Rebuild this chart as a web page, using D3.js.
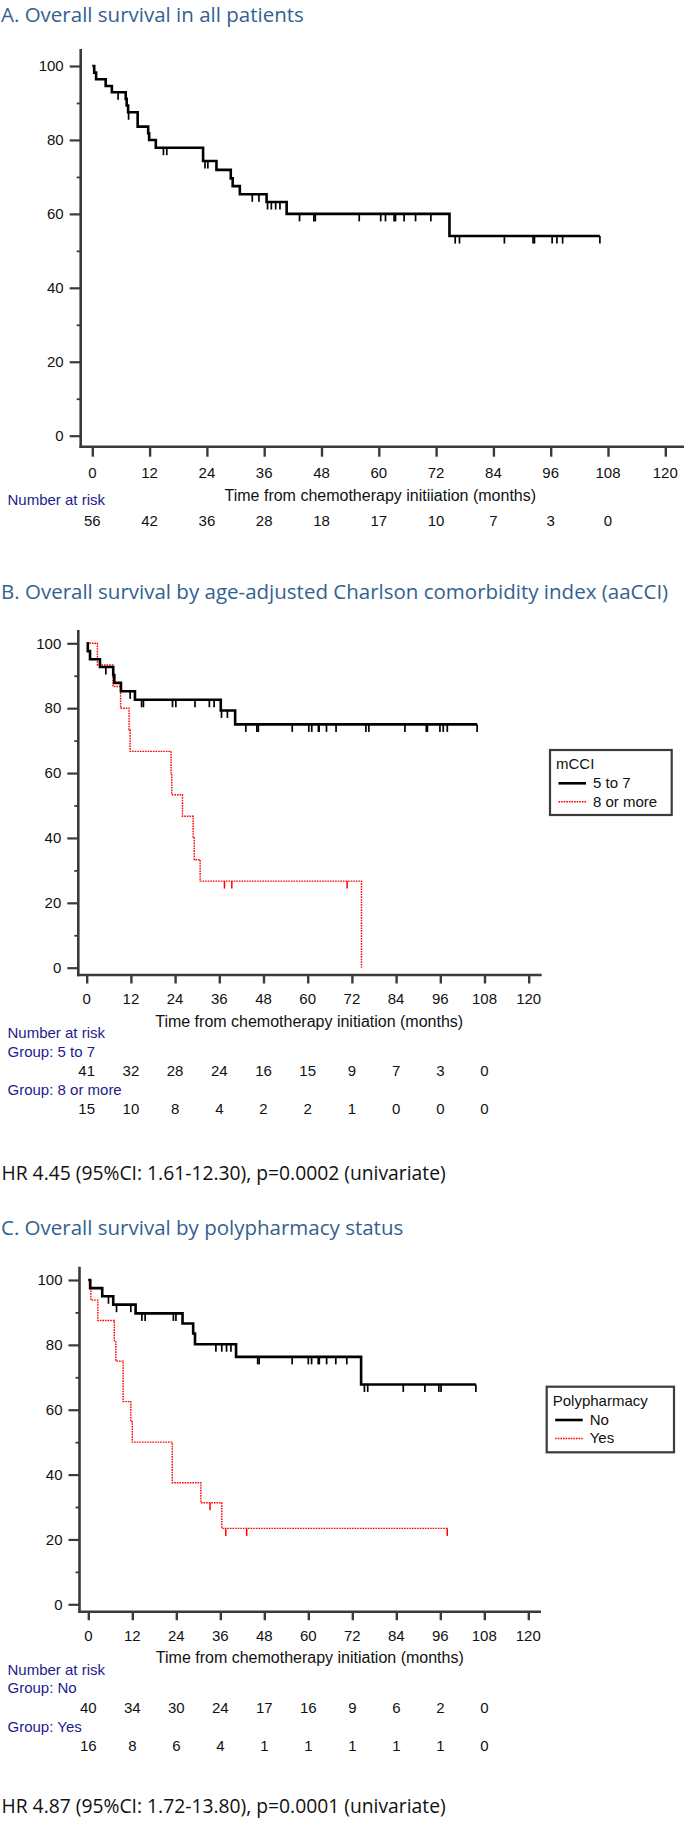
<!DOCTYPE html>
<html><head><meta charset="utf-8">
<script src="https://cdn.jsdelivr.net/npm/d3@7"></script>
<style>
html,body{margin:0;padding:0;background:#fff;}
svg{display:block;}
</style></head>
<body>
<svg id="chart" width="685" height="1821"></svg>
<script>
// ---------------- DATA ----------------
const xTickValues = [0,12,24,36,48,60,72,84,96,108,120];
const riskTimes = [0,12,24,36,48,60,72,84,96,108];

// Panel A: all patients
const aTime = [0,0.4,0.8,2.8,4.1,7.0,7.2,7.5,9.5,11.7,11.9,13.3,23.2,26.0,29.0,29.4,30.9,36.5,40.7,74.8];
const aSurv = [100,98.2,96.4,94.6,92.9,91.1,89.3,87.5,83.6,81.8,80.0,77.9,74.3,71.9,69.6,67.5,65.3,63.2,60.0,54.0];
const aEnd = 106.3;
const aCens = [5.4,7.6,14.9,15.6,23.6,24.2,33.5,34.9,36.7,37.5,38.4,39.3,43.4,46.4,46.7,55.9,60.4,61.4,63.2,63.5,65.3,67.7,70.9,76.0,76.9,86.3,92.3,92.6,96.3,97.3,98.5,106.3];
const aRisk = [56,42,36,28,18,17,10,7,3,0];

// Panel B: aaCCI 5 to 7 / 8 or more
const b1Time = [0,0.3,0.9,3.6,7.2,7.5,9.3,13.1,36.4,40.3];
const b1Surv = [100,97.6,95.1,92.7,90.2,87.8,85.2,82.6,79.3,75.0];
const b1End = 106.0;
const b1Cens = [5.2,11.8,14.9,15.4,23.3,24.2,29.4,33.3,34.6,36.6,38.2,43.2,46.2,46.6,55.8,60.3,61.1,62.9,63.1,65.1,67.7,75.8,76.6,86.4,92.2,92.5,95.9,96.8,97.9,106.0];
const b2Time = [0,2.9,7.1,9.2,11.5,11.8,22.9,23.1,26.0,28.9,29.2,30.8,74.6];
const b2Surv = [100,93.3,86.7,80.0,73.3,66.7,60.0,53.3,46.7,40.0,33.3,26.7,0];
const b2End = 74.6;
const b2Cens = [37.4,39.4,70.7];
const b1Risk = [41,32,28,24,16,15,9,7,3,0];
const b2Risk = [15,10,8,4,2,2,1,0,0,0];

// Panel C: polypharmacy No / Yes
const c1Time = [0,0.5,3.8,6.8,12.9,25.7,28.6,29.1,40.3,74.4];
const c1Surv = [100,97.5,95.0,92.4,89.7,86.6,83.5,80.2,76.3,67.8];
const c1End = 105.7;
const c1Cens = [5.5,7.7,11.6,14.6,15.5,23.2,23.9,34.8,36.4,37.7,38.9,46.2,46.6,55.6,60.0,60.9,62.7,63.0,65.0,67.5,70.5,75.3,76.2,85.9,91.8,95.6,96.2,105.7];
const c2Time = [0,0.7,2.6,7.1,7.5,9.5,11.6,12.0,22.9,30.7,36.4];
const c2Surv = [100,93.8,87.5,81.3,75.0,62.5,56.3,50.0,37.5,31.3,23.4];
const c2End = 97.9;
const c2Cens = [33.2,37.5,43.2,97.9];
const c1Risk = [40,34,30,24,17,16,9,6,2,0];
const c2Risk = [16,8,6,4,1,1,1,1,1,0];

// ---------------- DRAW ----------------
const svg = d3.select("#chart");
const ARIAL = "'Liberation Sans', Arial, Helvetica, sans-serif";
const TITLEF = "'Open Sans', 'Noto Sans', sans-serif";
const AXC = "#3a3a3a";
const NAVY = "#1c1c8e";
const TITLEC = "#33618f";

function stepAt(times, surv, t){
  let s = surv[0];
  for (let i=0;i<times.length;i++){ if (times[i] <= t) s = surv[i]; }
  return s;
}

function drawPanel(p){
  const g = svg.append("g");
  const x = d3.scaleLinear().domain([0,120]).range(p.xr);
  const y = d3.scaleLinear().domain([0,100]).range(p.yr);

  // title
  g.append("text").attr("x",1).attr("y",p.titleY).text(p.title)
    .attr("font-family",TITLEF).attr("font-size",20.5).attr("fill",TITLEC);

  // axes lines
  g.append("line").attr("x1",p.axisX).attr("x2",p.axisX).attr("y1",p.yTop).attr("y2",p.xAxisY+1.2)
    .attr("stroke",AXC).attr("stroke-width",2.6);
  g.append("line").attr("x1",p.axisX-1.2).attr("x2",p.xEnd).attr("y1",p.xAxisY).attr("y2",p.xAxisY)
    .attr("stroke",AXC).attr("stroke-width",2.6);

  // y axis ticks (major with labels, minor without)
  const yAx = g.append("g").attr("transform",`translate(${p.axisX},0)`)
    .call(d3.axisLeft(y).tickValues([0,20,40,60,80,100]).tickSize(11).tickPadding(6));
  yAx.select(".domain").remove();
  yAx.selectAll("line").attr("stroke",AXC).attr("stroke-width",2.2);
  yAx.selectAll("text").attr("font-family",ARIAL).attr("font-size",15).attr("fill","#111");
  const yMin = g.append("g").attr("transform",`translate(${p.axisX},0)`)
    .call(d3.axisLeft(y).tickValues([10,30,50,70,90]).tickSize(4).tickFormat(""));
  yMin.select(".domain").remove();
  yMin.selectAll("line").attr("stroke",AXC).attr("stroke-width",1.8);

  // x axis ticks
  const xAx = g.append("g").attr("transform",`translate(0,${p.xAxisY})`)
    .call(d3.axisBottom(x).tickValues(xTickValues).tickSize(p.xTickLen).tickFormat(""));
  xAx.select(".domain").remove();
  xAx.selectAll("line").attr("stroke",AXC).attr("stroke-width",2.4);
  g.selectAll(".xlab").data(xTickValues).enter().append("text")
    .attr("x",d=>x(d)).attr("y",p.labelY).attr("text-anchor","middle")
    .attr("font-family",ARIAL).attr("font-size",15).attr("fill","#111").text(d=>d);

  // axis title
  g.append("text").attr("x",x(60)+1.5).attr("y",p.axisTitleY).attr("text-anchor","middle")
    .attr("font-family",ARIAL).attr("font-size",16).attr("fill","#111").text(p.axisTitle);

  // number at risk
  g.append("text").attr("x",7.5).attr("y",p.narY).text("Number at risk")
    .attr("font-family",ARIAL).attr("font-size",15).attr("fill",NAVY);
  p.groups.forEach(gr=>{
    if (gr.label){
      g.append("text").attr("x",7.5).attr("y",gr.labelY).text(gr.label)
        .attr("font-family",ARIAL).attr("font-size",15).attr("fill",NAVY);
    }
    g.selectAll(null).data(gr.risk).enter().append("text")
      .attr("x",(d,i)=>x(riskTimes[i])).attr("y",gr.rowY).attr("text-anchor","middle")
      .attr("font-family",ARIAL).attr("font-size",15).attr("fill","#111").text(d=>d);
  });

  // curves
  const line = d3.line().x(d=>x(d[0])).y(d=>y(d[1])).curve(d3.curveStepAfter);
  p.series.forEach(s=>{
    const pts = s.time.map((t,i)=>[t,s.surv[i]]);
    pts.push([s.end, s.surv[s.surv.length-1]]);
    const path = g.append("path").attr("d",line(pts)).attr("fill","none")
      .attr("stroke",s.color).attr("stroke-width",s.width).attr("stroke-linejoin","miter");
    if (s.dash) path.attr("stroke-dasharray",s.dash);
    g.selectAll(null).data(s.cens).enter().append("line")
      .attr("x1",d=>x(d)).attr("x2",d=>x(d))
      .attr("y1",d=>y(stepAt(s.time,s.surv,d)))
      .attr("y2",d=>y(stepAt(s.time,s.surv,d))+7.5)
      .attr("stroke",s.color).attr("stroke-width",s.censW);
  });

  // legend
  if (p.legend){
    const L = p.legend;
    const lg = g.append("g").attr("transform",`translate(${L.x},${L.y})`);
    lg.append("rect").attr("width",L.w).attr("height",L.h).attr("fill","#fff")
      .attr("stroke","#3c3c3c").attr("stroke-width",2.2);
    lg.append("text").attr("x",6).attr("y",19).text(L.title)
      .attr("font-family",ARIAL).attr("font-size",15).attr("fill","#111");
    L.items.forEach((it,i)=>{
      const ly = 33.3 + i*18.5;
      const ln = lg.append("line").attr("x1",8.5).attr("x2",36).attr("y1",ly).attr("y2",ly)
        .attr("stroke",it.color).attr("stroke-width",it.width);
      if (it.dash) ln.attr("stroke-dasharray",it.dash);
      lg.append("text").attr("x",43).attr("y",ly+4.8).text(it.label)
        .attr("font-family",ARIAL).attr("font-size",15).attr("fill","#111");
    });
  }

  if (p.hr){
    g.append("text").attr("x",1.5).attr("y",p.hrY).text(p.hr)
      .attr("font-family",TITLEF).attr("font-size",19.3).attr("fill","#111");
  }
}

const BLACK = {color:"#000", width:2.6, censW:1.7, dash:null};
const RED = {color:"#ff0000", width:1.4, censW:1.5, dash:"1.6,1"};

drawPanel({
  title:"A. Overall survival in all patients", titleY:22,
  axisX:80.7, xr:[92.3,665.3], xEnd:684, yr:[435.7,66], yTop:49, xAxisY:446.7, xTickLen:10,
  labelY:478.3, axisTitle:"Time from chemotherapy initiiation (months)", axisTitleY:501,
  narY:505, groups:[{label:null, rowY:525.5, risk:aRisk}],
  series:[Object.assign({time:aTime, surv:aSurv, end:aEnd, cens:aCens}, BLACK)],
  legend:null, hr:null
});

drawPanel({
  title:"B. Overall survival by age-adjusted Charlson comorbidity index (aaCCI)", titleY:599,
  axisX:78.3, xr:[86.7,528.7], xEnd:541.7, yr:[967.7,643.3], yTop:630, xAxisY:975, xTickLen:8.5,
  labelY:1004, axisTitle:"Time from chemotherapy initiation (months)", axisTitleY:1026.7,
  narY:1037.7,
  groups:[{label:"Group: 5 to 7", labelY:1056.7, rowY:1075.7, risk:b1Risk},
          {label:"Group: 8 or more", labelY:1095, rowY:1114, risk:b2Risk}],
  series:[Object.assign({time:b2Time, surv:b2Surv, end:b2End, cens:b2Cens}, RED),
          Object.assign({time:b1Time, surv:b1Surv, end:b1End, cens:b1Cens}, BLACK)],
  legend:{x:550, y:750, w:121.7, h:65, title:"mCCI",
    items:[{label:"5 to 7", color:"#000", width:2.6},{label:"8 or more", color:"#ff0000", width:1.4, dash:"1.6,1"}]},
  hr:"HR 4.45 (95%CI: 1.61-12.30), p=0.0002 (univariate)", hrY:1180
});

drawPanel({
  title:"C. Overall survival by polypharmacy status", titleY:1235,
  axisX:79.5, xr:[88.3,528.3], xEnd:541, yr:[1604.3,1280], yTop:1266.7, xAxisY:1611.7, xTickLen:8.5,
  labelY:1641, axisTitle:"Time from chemotherapy initiation (months)", axisTitleY:1663.3,
  narY:1675,
  groups:[{label:"Group: No", labelY:1693.3, rowY:1712.7, risk:c1Risk},
          {label:"Group: Yes", labelY:1731.7, rowY:1750.7, risk:c2Risk}],
  series:[Object.assign({time:c2Time, surv:c2Surv, end:c2End, cens:c2Cens}, RED),
          Object.assign({time:c1Time, surv:c1Surv, end:c1End, cens:c1Cens}, BLACK)],
  legend:{x:546.7, y:1386.7, w:127.3, h:65.6, title:"Polypharmacy",
    items:[{label:"No", color:"#000", width:2.6},{label:"Yes", color:"#ff0000", width:1.4, dash:"1.6,1"}]},
  hr:"HR 4.87 (95%CI: 1.72-13.80), p=0.0001 (univariate)", hrY:1813.3
});
</script>
</body></html>
